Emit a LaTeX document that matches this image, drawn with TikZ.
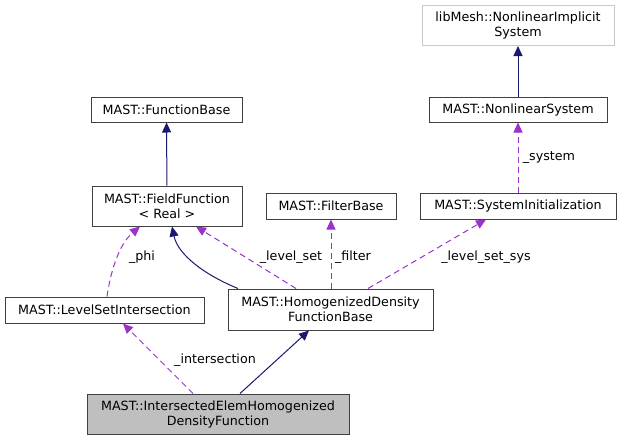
\documentclass[tikz,border=0pt]{standalone}
\usepackage{fontspec}
\setmainfont{DejaVu Sans}
\usetikzlibrary{arrows.meta}
\definecolor{inhblue}{HTML}{191970}
\definecolor{usepurple}{HTML}{9A32CD}
\definecolor{selfgray}{HTML}{BFBFBF}
\definecolor{boxline}{HTML}{404040}
\definecolor{extline}{HTML}{C8C8C8}
\tikzset{
  txt/.style={font=\fontsize{12.7}{15}\selectfont},
  cls/.style={txt, draw=boxline, line width=1pt, align=center, inner sep=0pt},
  inh/.style={draw=inhblue, line width=1pt, -{Triangle[length=10pt,width=9pt]}},
  usage/.style={draw=usepurple, line width=1pt, dash pattern=on 6pt off 4pt,
                -{Triangle[length=10pt,width=9pt]}},
}
\begin{document}
\begin{tikzpicture}[x=1pt,y=-1pt]
      \useasboundingbox (0,0) rectangle (621,440);

      % Classes
      \node[cls, draw=extline, minimum width=192, minimum height=40] (nlimplicit) at (518,25.5) {libMesh::NonlinearImplicit\\System};
      \node[cls, minimum width=178, minimum height=25] (nlsystem) at (518,109.5) {MAST::NonlinearSystem};
      \node[cls, minimum width=196, minimum height=26] (sysinit) at (518,206) {MAST::SystemInitialization};
      \node[cls, minimum width=130, minimum height=26] (filter) at (331,206) {MAST::FilterBase};
      \node[cls, minimum width=151, minimum height=25] (funcbase) at (166.5,109.5) {MAST::FunctionBase};
      \node[cls, minimum width=150, minimum height=40] (fieldfunc) at (167,206) {MAST::FieldFunction\\\textless{} Real \textgreater{}};
      \node[cls, minimum width=199, minimum height=26] (lsinter) at (104.5,310) {MAST::LevelSetIntersection};
      \node[cls, minimum width=205, minimum height=41] (homog) at (330.5,309.5) {MAST::HomogenizedDensity\\FunctionBase};
      \node[cls, fill=selfgray, minimum width=262, minimum height=40] (intersected) at (218,414) {MAST::IntersectedElemHomogenized\\DensityFunction};

      % Inheritance
      \draw[inh] (nlsystem) -- (nlimplicit);
      \draw[inh] (fieldfunc) -- (funcbase);
      \draw[inh] ([xshift=-92.5pt]homog.north) .. controls (205,275) and (178,255) .. ([xshift=5pt]fieldfunc.south);
      \draw[inh] ([xshift=22pt]intersected.north) -- ([xshift=-21.5pt]homog.south);

      % Usage
      \draw[usage] (sysinit) -- (nlsystem) node[txt, pos=0.5, right=1pt] (lsystem) {\_system};
      \draw[usage] ([xshift=0.5pt]homog.north) -- (filter);
      \draw[usage] ([xshift=-34.5pt]homog.north) -- ([xshift=29pt]fieldfunc.south);
      \draw[usage] ([xshift=37.5pt]homog.north) -- ([xshift=-32pt]sysinit.south);
      \draw[usage] ([xshift=2.5pt]lsinter.north) .. controls (110,275) and (118,245) .. ([xshift=-27pt]fieldfunc.south);
      \draw[usage] ([xshift=-25pt]intersected.north) -- ([xshift=18.5pt]lsinter.south);

      % Edge labels
      \node[txt] (lphi) at (142,257) {\_phi};
      \node[txt] (llevelset) at (291,257) {\_level\_set};
      \node[txt] (lfilter) at (353,257) {\_filter};
      \node[txt] (llevelsetsys) at (486,257) {\_level\_set\_sys};
      \node[txt] (lintersection) at (215,360) {\_intersection};
\end{tikzpicture}
\end{document}
